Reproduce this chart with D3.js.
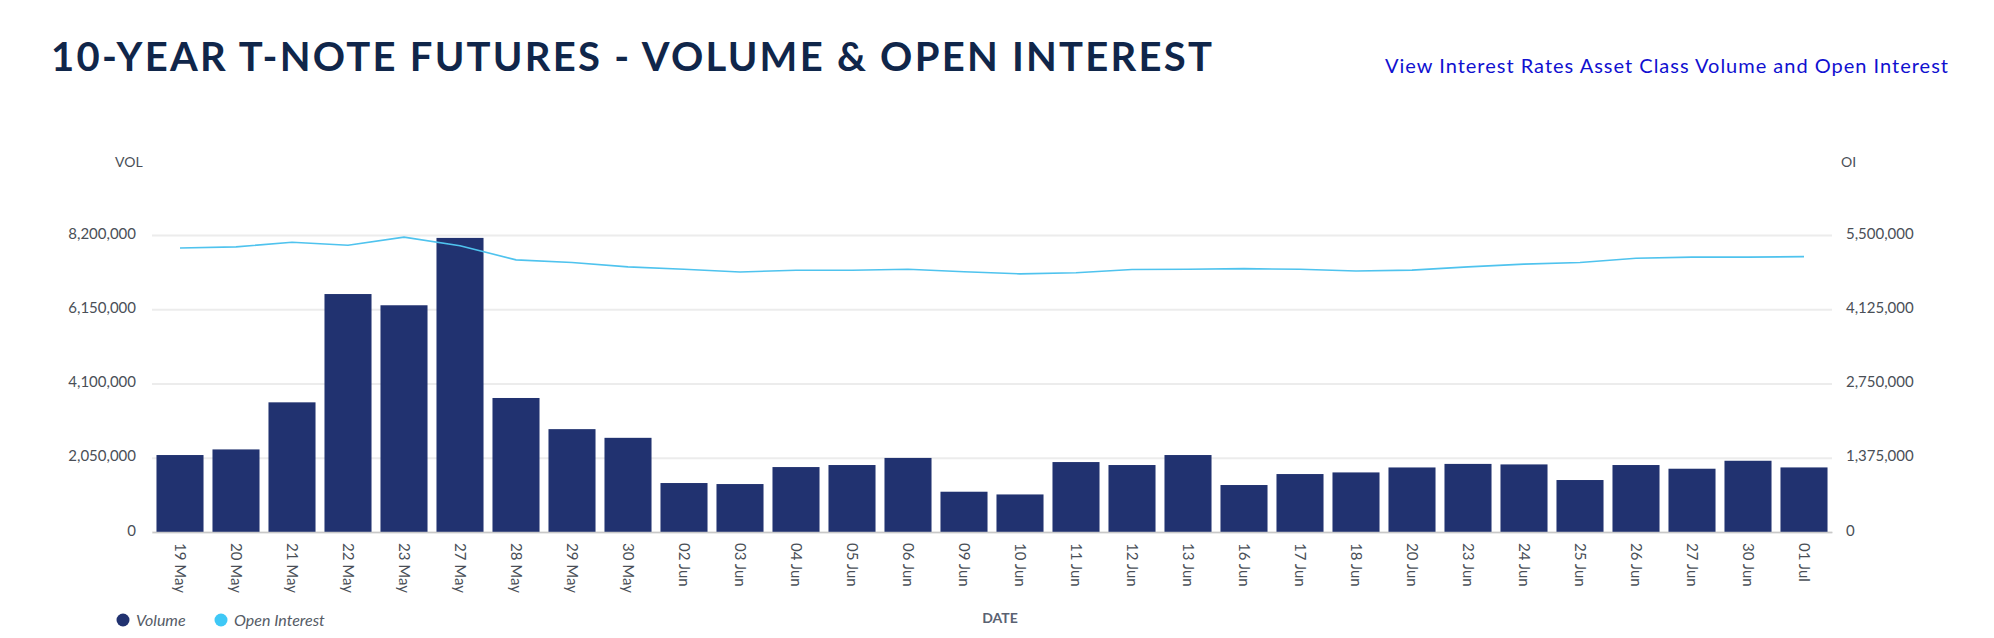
<!DOCTYPE html>
<html>
<head>
<meta charset="utf-8">
<script src="https://cdn.jsdelivr.net/npm/d3@7"></script>
<style>
  body { margin: 0; background: #fff; }
  text { font-family: Lato, "Open Sans", sans-serif; }
</style>
</head>
<body>
<div id="chart"></div>
<script>
// chart data
const dates = ["19 May","20 May","21 May","22 May","23 May","27 May","28 May","29 May","30 May","02 Jun",
  "03 Jun","04 Jun","05 Jun","06 Jun","09 Jun","10 Jun","11 Jun","12 Jun","13 Jun","16 Jun",
  "17 Jun","18 Jun","20 Jun","23 Jun","24 Jun","25 Jun","26 Jun","27 Jun","30 Jun","01 Jul"];
const volume = [2125000, 2280000, 3580000, 6570000, 6260000, 8120000, 3700000, 2840000, 2600000, 1352000,
  1324000, 1793000, 1849000, 2045000, 1112000, 1037000, 1931000, 1849000, 2125000, 1297000,
  1600000, 1645000, 1782000, 1880000, 1866000, 1435000, 1849000, 1747000, 1967000, 1783000];
const openInterest = [5260000, 5280000, 5365000, 5310000, 5460000, 5300000, 5040000, 4990000, 4910000, 4865000,
  4816000, 4847000, 4847000, 4865000, 4820000, 4780000, 4800000, 4860000, 4865000, 4877000,
  4865000, 4834000, 4850000, 4910000, 4960000, 4990000, 5070000, 5090000, 5090000, 5100000];
const volTicks = [0, 2050000, 4100000, 6150000, 8200000];
const oiTicks = [0, 1375000, 2750000, 4125000, 5500000];

const width = 1994, height = 638;
const margin = { top: 235, right: 162, bottom: 106, left: 152 };

const svg = d3.select("#chart").append("svg")
  .attr("width", width)
  .attr("height", height);

// title + link
svg.append("text")
  .attr("x", 51).attr("y", 71)
  .attr("textLength", 1161).attr("lengthAdjust", "spacing")
  .style("font-size", "40px").style("font-weight", 700)
  .attr("fill", "#10264a")
  .text("10-YEAR T-NOTE FUTURES - VOLUME & OPEN INTEREST");

svg.append("text")
  .attr("x", 1385).attr("y", 73)
  .attr("textLength", 563).attr("lengthAdjust", "spacing")
  .style("font-size", "20px")
  .attr("fill", "#1010d0")
  .text("View Interest Rates Asset Class Volume and Open Interest");

const x = d3.scaleBand()
  .domain(dates)
  .range([margin.left, width - margin.right])
  .paddingInner(0.16)
  .paddingOuter(0.08);

const yVol = d3.scaleLinear()
  .domain([0, 8200000])
  .range([height - margin.bottom, margin.top]);

const yOI = d3.scaleLinear()
  .domain([0, 5500000])
  .range([height - margin.bottom, margin.top]);

const fmt = d3.format(",");

// gridlines
svg.append("g")
  .attr("transform", `translate(${margin.left},0)`)
  .call(d3.axisLeft(yVol).tickValues(volTicks).tickSize(-(width - margin.left - margin.right)).tickFormat(""))
  .call(g => g.select(".domain").remove())
  .call(g => g.selectAll("line").attr("stroke", "#ececec").attr("stroke-width", 2));

// left axis
svg.append("g")
  .attr("transform", `translate(${margin.left - 13},0)`)
  .call(d3.axisLeft(yVol).tickValues(volTicks).tickSize(0).tickFormat(fmt))
  .call(g => g.select(".domain").remove())
  .call(g => g.selectAll("text").attr("fill", "#4a4f57").style("font-size", "15px").attr("dy", "0.2em"));

// right axis
svg.append("g")
  .attr("transform", `translate(${width - margin.right + 11},0)`)
  .call(d3.axisRight(yOI).tickValues(oiTicks).tickSize(0).tickFormat(fmt))
  .call(g => g.select(".domain").remove())
  .call(g => g.selectAll("text").attr("fill", "#4a4f57").style("font-size", "15px").attr("dy", "0.2em"));

svg.append("text")
  .attr("x", 115).attr("y", 167)
  .style("font-size", "14px").attr("fill", "#4a4f57")
  .text("VOL");

svg.append("text")
  .attr("x", 1841).attr("y", 167)
  .style("font-size", "14px").attr("fill", "#4a4f57")
  .text("OI");

// bars
svg.append("g")
  .selectAll("rect")
  .data(volume)
  .join("rect")
  .attr("x", (d, i) => x(dates[i]))
  .attr("y", d => yVol(d))
  .attr("width", x.bandwidth())
  .attr("height", d => yVol(0) - yVol(d))
  .attr("fill", "#213270");

// x axis
svg.append("g")
  .attr("transform", `translate(0,${height - margin.bottom})`)
  .call(d3.axisBottom(x).tickSize(0))
  .call(g => g.select(".domain").attr("stroke", "#c9c9c9").attr("stroke-width", 1.5))
  .call(g => g.selectAll("text")
    .attr("transform", "rotate(90)")
    .attr("text-anchor", "start")
    .attr("x", 11)
    .attr("y", 0)
    .attr("dy", "0.35em")
    .attr("fill", "#4a4f57")
    .style("font-size", "15px"));

// open interest line
const line = d3.line()
  .x((d, i) => x(dates[i]) + x.bandwidth() / 2)
  .y(d => yOI(d));

svg.append("path")
  .datum(openInterest)
  .attr("d", line)
  .attr("fill", "none")
  .attr("stroke", "#4fc3ee")
  .attr("stroke-width", 1.6);

// axis title
svg.append("text")
  .attr("x", 1000).attr("y", 623)
  .attr("text-anchor", "middle")
  .style("font-size", "14px").style("font-weight", 700)
  .attr("fill", "#5a6272")
  .text("DATE");

// legend
const legend = svg.append("g").attr("transform", "translate(123,620)");
const items = [
  { name: "Volume", color: "#213270", dx: 0 },
  { name: "Open Interest", color: "#3fc8f6", dx: 98 }
];
items.forEach(it => {
  legend.append("circle").attr("cx", it.dx).attr("cy", 0).attr("r", 6.5).attr("fill", it.color);
  legend.append("text")
    .attr("x", it.dx + 13).attr("y", 5.5)
    .style("font-size", "16px").style("font-style", "italic")
    .attr("fill", "#555b66")
    .text(it.name);
});
</script>
</body>
</html>
